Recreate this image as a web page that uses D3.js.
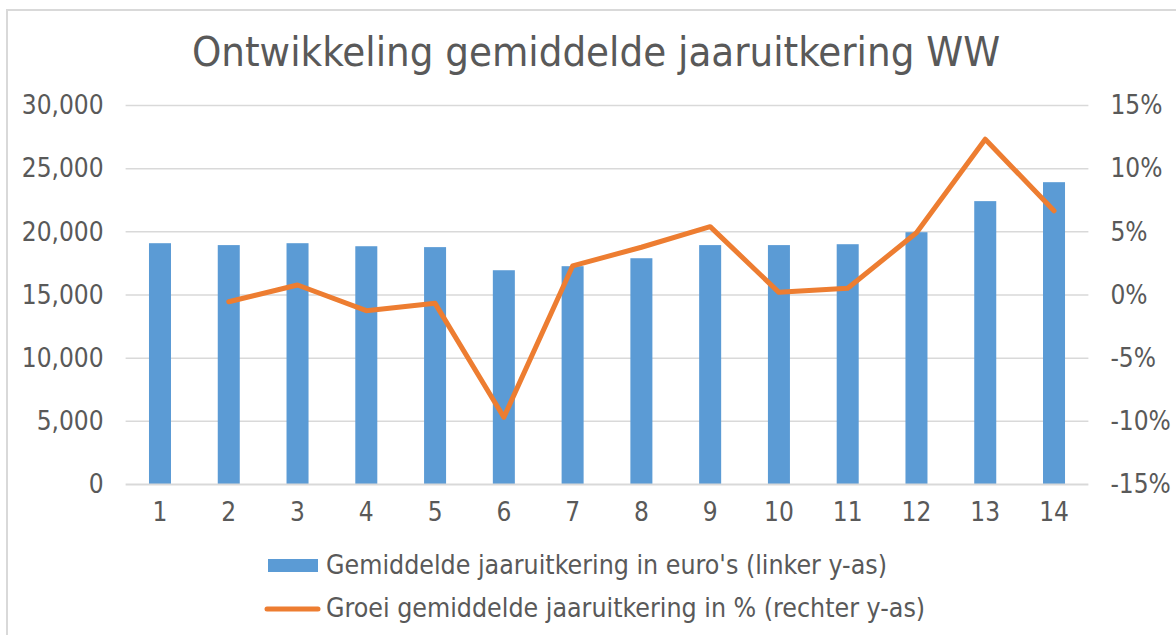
<!DOCTYPE html>
<html><head><meta charset="utf-8">
<script src="https://cdn.jsdelivr.net/npm/d3@7/dist/d3.min.js"></script>
<style>
html,body{margin:0;padding:0;background:#fff;}
text{font-family:"DejaVu Sans Condensed","DejaVu Sans",sans-serif;fill:#595959;}
</style></head>
<body><svg id="c" width="1176" height="635"></svg>
<script>
const categories = ["1","2","3","4","5","6","7","8","9","10","11","12","13","14"];
const uitkering = [19100, 18950, 19100, 18860, 18790, 16960, 17280, 17910, 18950, 18950, 19020, 19970, 22430, 23930];
const groei = [null, -0.53, 0.79, -1.24, -0.66, -9.68, 2.30, 3.78, 5.41, 0.21, 0.53, 4.93, 12.33, 6.67];
const leftTicks = [0, 5000, 10000, 15000, 20000, 25000, 30000];
const rightTicks = [-15, -10, -5, 0, 5, 10, 15];
const title = "Ontwikkeling gemiddelde jaaruitkering WW";
const legendLabels = ["Gemiddelde jaaruitkering in euro's (linker y-as)", "Groei gemiddelde jaaruitkering in % (rechter y-as)"];

const svg = d3.select("#c");
const m = {left:125.6, right:1088.4, top:105.5, bottom:484.5};

// border
svg.append("rect").attr("x",7).attr("y",10).attr("width",1180).attr("height",640)
  .attr("fill","none").attr("stroke","#d9d9d9").attr("stroke-width",2);

const x = d3.scaleBand().domain(categories).range([m.left,m.right]).paddingInner(0.68).paddingOuter(0.34);
const yL = d3.scaleLinear().domain([0,30000]).range([m.bottom,m.top]);
const yR = d3.scaleLinear().domain([-15,15]).range([m.bottom,m.top]);

// grid
svg.append("g").selectAll("line").data(leftTicks.filter(d=>d>0)).join("line")
  .attr("x1",m.left).attr("x2",m.right).attr("y1",d=>yL(d)).attr("y2",d=>yL(d))
  .attr("stroke","#d9d9d9").attr("stroke-width",1.5);

// bars
svg.append("g").selectAll("rect").data(uitkering).join("rect")
  .attr("x",(d,i)=>x(categories[i])).attr("width",x.bandwidth())
  .attr("y",d=>yL(d)).attr("height",d=>yL(0)-yL(d)).attr("fill","#5B9BD5");

// baseline axis
svg.append("line").attr("x1",m.left).attr("x2",m.right).attr("y1",yL(0)).attr("y2",yL(0))
  .attr("stroke","#d9d9d9").attr("stroke-width",2);

// line
const lineGen = d3.line().defined(d=>d!=null)
  .x((d,i)=>x(categories[i])+x.bandwidth()/2).y(d=>yR(d));
svg.append("path").datum(groei).attr("d",lineGen)
  .attr("fill","none").attr("stroke","#ED7D31").attr("stroke-width",5)
  .attr("stroke-linejoin","round").attr("stroke-linecap","round");

// left axis
const fmt = d3.format(",");
const axL = d3.axisLeft(yL).tickValues(leftTicks).tickFormat(fmt).tickSize(0).tickPadding(22);
const gL = svg.append("g").attr("transform",`translate(${m.left},0)`).call(axL);
gL.select(".domain").remove();
gL.selectAll("text").attr("font-size",26).attr("fill","#595959").attr("font-family",null);

// right axis
const axR = d3.axisRight(yR).tickValues(rightTicks).tickFormat(d=>d+"%").tickSize(0).tickPadding(22);
const gR = svg.append("g").attr("transform",`translate(${m.right},0)`).call(axR);
gR.select(".domain").remove();
gR.selectAll("text").attr("font-size",26).attr("fill","#595959").attr("font-family",null);

// x axis
const axX = d3.axisBottom(x).tickSize(0).tickPadding(18);
const gX = svg.append("g").attr("transform",`translate(0,${m.bottom})`).call(axX);
gX.select(".domain").remove();
gX.selectAll("text").attr("font-size",26).attr("fill","#595959").attr("font-family",null);

// title
svg.append("text").attr("x",596).attr("y",66).attr("text-anchor","middle")
  .attr("font-size",41.5).text(title);

// legend
svg.append("rect").attr("x",268).attr("y",559).attr("width",50).attr("height",13).attr("fill","#5B9BD5");
svg.append("line").attr("x1",267).attr("x2",318).attr("y1",609).attr("y2",609)
  .attr("stroke","#ED7D31").attr("stroke-width",5).attr("stroke-linecap","round");
svg.append("text").attr("x",326).attr("y",574).attr("font-size",26.5).text(legendLabels[0]);
svg.append("text").attr("x",326).attr("y",617).attr("font-size",26.5).text(legendLabels[1]);
</script></body></html>
